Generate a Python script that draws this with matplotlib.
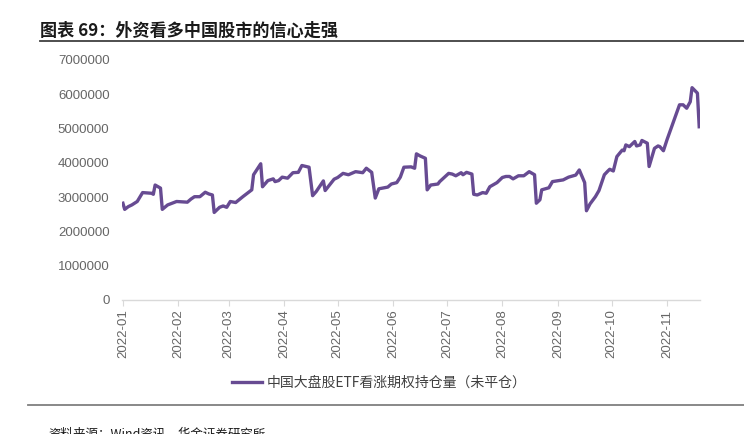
import pandas as pd
import matplotlib.pyplot as plt
import matplotlib.dates as mdates
from matplotlib.lines import Line2D

# 数据（从图中读取，单位：张）
dates = [
    '2022-01-01', '2022-01-02', '2022-01-04', '2022-01-06', '2022-01-09', '2022-01-12',
    '2022-01-17', '2022-01-18', '2022-01-19', '2022-01-22', '2022-01-23', '2022-01-26',
    '2022-01-31', '2022-02-06', '2022-02-08', '2022-02-10', '2022-02-13', '2022-02-16',
    '2022-02-18', '2022-02-20', '2022-02-21', '2022-02-24', '2022-02-26', '2022-02-28',
    '2022-03-02', '2022-03-05', '2022-03-09', '2022-03-12', '2022-03-14', '2022-03-15',
    '2022-03-19', '2022-03-20', '2022-03-23', '2022-03-26', '2022-03-27', '2022-03-29',
    '2022-03-31', '2022-04-03', '2022-04-06', '2022-04-09', '2022-04-11', '2022-04-15',
    '2022-04-17', '2022-04-19', '2022-04-23', '2022-04-24', '2022-04-26', '2022-04-29',
    '2022-05-01', '2022-05-04', '2022-05-07', '2022-05-11', '2022-05-15', '2022-05-17',
    '2022-05-20', '2022-05-22', '2022-05-24', '2022-05-29', '2022-05-31', '2022-06-03',
    '2022-06-05', '2022-06-07', '2022-06-11', '2022-06-13', '2022-06-14', '2022-06-16',
    '2022-06-19', '2022-06-20', '2022-06-22', '2022-06-26', '2022-06-27', '2022-07-02',
    '2022-07-04', '2022-07-06', '2022-07-09', '2022-07-10', '2022-07-12', '2022-07-15',
    '2022-07-16', '2022-07-18', '2022-07-21', '2022-07-23', '2022-07-25', '2022-07-29',
    '2022-08-01', '2022-08-03', '2022-08-05', '2022-08-07', '2022-08-10', '2022-08-13',
    '2022-08-16', '2022-08-19', '2022-08-20', '2022-08-22', '2022-08-23', '2022-08-27',
    '2022-08-29', '2022-09-04', '2022-09-07', '2022-09-11', '2022-09-13', '2022-09-16',
    '2022-09-17', '2022-09-19', '2022-09-22', '2022-09-24', '2022-09-27', '2022-09-29',
    '2022-09-30', '2022-10-02', '2022-10-04', '2022-10-07', '2022-10-08', '2022-10-09',
    '2022-10-11', '2022-10-14', '2022-10-15', '2022-10-17', '2022-10-18', '2022-10-21',
    '2022-10-22', '2022-10-25', '2022-10-27', '2022-10-28', '2022-10-30', '2022-11-01',
    '2022-11-08', '2022-11-10', '2022-11-12', '2022-11-14', '2022-11-15', '2022-11-18',
    '2022-11-19',
]
values_m = [
    2.82, 2.64, 2.72, 2.77, 2.87, 3.13,
    3.11, 3.08, 3.35, 3.26, 2.64, 2.77,
    2.87, 2.85, 2.94, 3.01, 3.01, 3.14,
    3.09, 3.06, 2.55, 2.70, 2.74, 2.70,
    2.87, 2.84, 3.01, 3.13, 3.21, 3.65,
    3.97, 3.30, 3.48, 3.53, 3.45, 3.48,
    3.58, 3.55, 3.71, 3.72, 3.92, 3.87,
    3.04, 3.16, 3.47, 3.19, 3.32, 3.52,
    3.57, 3.69, 3.65, 3.74, 3.71, 3.84,
    3.72, 2.97, 3.24, 3.29, 3.38, 3.42,
    3.58, 3.87, 3.88, 3.84, 4.26, 4.20,
    4.13, 3.21, 3.35, 3.38, 3.45, 3.69,
    3.67, 3.62, 3.71, 3.65, 3.72, 3.67,
    3.08, 3.06, 3.13, 3.11, 3.30, 3.42,
    3.57, 3.60, 3.60, 3.53, 3.62, 3.62,
    3.74, 3.65, 2.82, 2.92, 3.21, 3.27,
    3.45, 3.50, 3.58, 3.64, 3.79, 3.42,
    2.60, 2.80, 3.01, 3.19, 3.65, 3.76,
    3.81, 3.76, 4.18, 4.37, 4.35, 4.52,
    4.47, 4.62, 4.49, 4.52, 4.65, 4.57,
    3.89, 4.42, 4.49, 4.47, 4.35, 4.67,
    5.69, 5.69, 5.59, 5.78, 6.19, 6.03,
    5.05,
]
series_name = '中国大盘股ETF看涨期权持仓量（未平仓）'
title = '图表 69：外资看多中国股市的信心走强'
source = '资料来源：Wind资讯，华金证券研究所'

df = pd.DataFrame({'date': pd.to_datetime(dates), 'value': [v * 1e6 for v in values_m]})

plt.rcParams['font.family'] = ['Liberation Sans', 'Noto Sans CJK SC', 'DejaVu Sans']
line_color = '#674B92'
tick_color = '#666666'

fig = plt.figure(figsize=(7.44, 4.34), dpi=100)
ax = fig.add_axes([0.164, 0.309, 0.777, 0.553])

ax.plot(df['date'], df['value'], color=line_color, lw=2.4, solid_joinstyle='round')

ax.set_ylim(0, 7000000)
ax.set_yticks(range(0, 7000001, 1000000))
ax.yaxis.set_major_formatter(plt.FuncFormatter(lambda v, p: f'{int(v)}'))
ax.set_xlim(pd.Timestamp('2021-12-31 12:00'), pd.Timestamp('2022-11-19 12:00'))
ax.xaxis.set_major_locator(mdates.MonthLocator())
ax.xaxis.set_major_formatter(mdates.DateFormatter('%Y-%m'))
for lbl in ax.get_xticklabels():
    lbl.set_rotation(90)

for s in ['top', 'right', 'left']:
    ax.spines[s].set_visible(False)
ax.spines['bottom'].set_color('#d9d9d9')
ax.spines['bottom'].set_linewidth(1.0)
ax.tick_params(axis='y', length=0, pad=9, labelsize=9.5, labelcolor=tick_color)
ax.tick_params(axis='x', length=4, color='#d9d9d9', pad=3, labelsize=9.5, labelcolor=tick_color)

# 标题与分隔线
fig.text(40 / 744, 1 - 31 / 434, title, fontsize=12.3, fontweight='bold',
         family=['Noto Sans CJK SC', 'DejaVu Sans'], va='center', ha='left', color='#1a1a1a')
fig.add_artist(Line2D([40 / 744, 1.0], [1 - 41 / 434] * 2, color='#404040', lw=1.3))
fig.add_artist(Line2D([28 / 744, 1.0], [1 - 405 / 434] * 2, color='#7f7f7f', lw=1.3))

# 图例
leg = fig.legend([Line2D([], [], color=line_color, lw=2.4)], [series_name],
                 loc='center', bbox_to_anchor=(379 / 744, 1 - 383 / 434), frameon=False,
                 handlelength=2.2, handletextpad=0.3,
                 prop={'family': ['Noto Sans CJK SC', 'DejaVu Sans'], 'size': 10})
for t in leg.get_texts():
    t.set_color('#404040')

fig.text(48 / 744, 1 - 434 / 434, source, fontsize=9, va='center', ha='left',
         family=['Noto Sans CJK SC', 'DejaVu Sans'], color='#1a1a1a')

plt.savefig('out.png', dpi=100)
